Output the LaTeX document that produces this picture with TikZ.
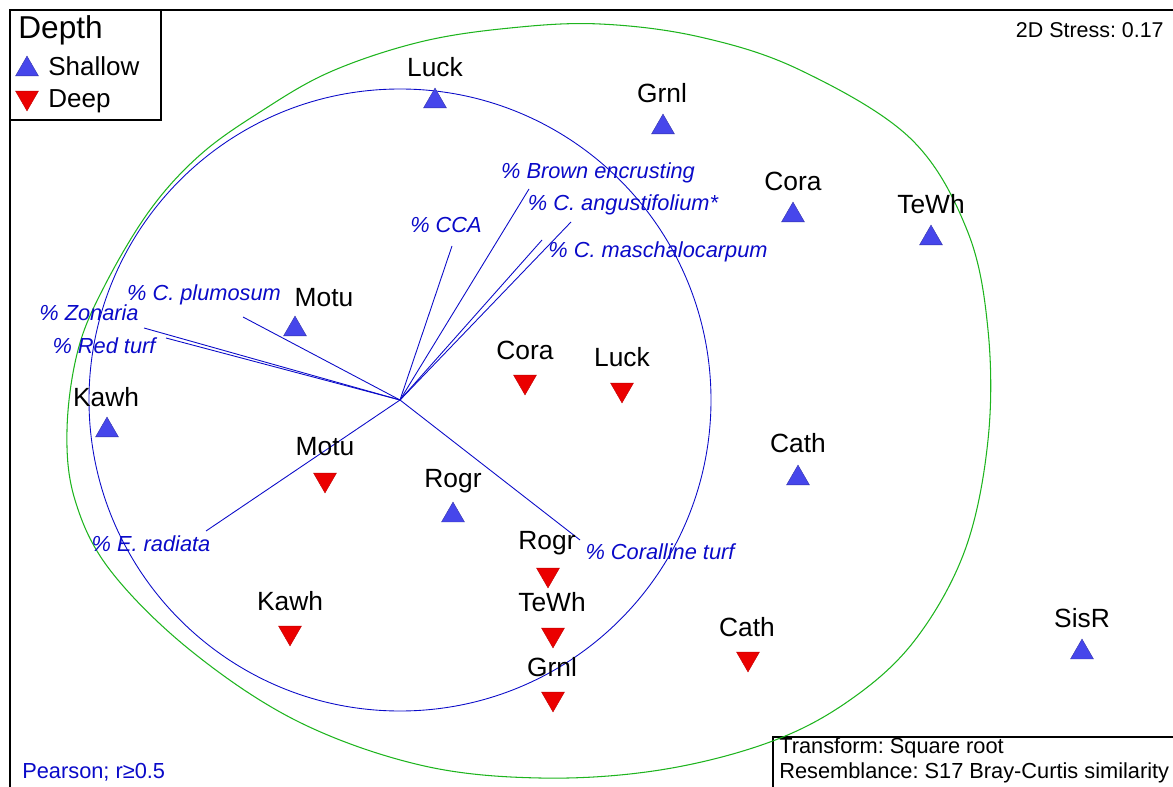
\documentclass[tikz,border=0pt]{standalone}
\usepackage{fontspec}
\setmainfont{Liberation Sans}
\usetikzlibrary{shapes.geometric}
\frenchspacing

\definecolor{vecblue}{RGB}{10,10,200}
\definecolor{shalfill}{RGB}{70,70,235}
\definecolor{deepfill}{RGB}{235,0,0}
\definecolor{clustgreen}{RGB}{30,180,30}

\tikzset{
  shallow/.style={regular polygon, regular polygon sides=3, minimum size=0.53cm,
    inner sep=0pt, outer sep=0pt, fill=shalfill, draw=shalfill!70!black,
    line width=0.2pt, yshift=-0.066cm},
  deep/.style={regular polygon, regular polygon sides=3, shape border rotate=180,
    minimum size=0.53cm, inner sep=0pt, outer sep=0pt, fill=deepfill,
    draw=deepfill!80!black, line width=0.2pt, yshift=0.066cm},
  site/.style={font=\fontsize{15}{18}\selectfont, inner sep=0pt},
  vec/.style={text=vecblue, font=\fontsize{12.4}{15}\selectfont\itshape, inner sep=0pt},
  vecline/.style={draw=vecblue, line width=0.5pt},
}

\begin{document}
\begin{tikzpicture}[x=0.02cm, y=-0.02cm]
  \useasboundingbox (0,0) rectangle (1173,787);
  % frame and boxes
  \draw[line width=0.8pt] (10,787) -- (10,10) -- (1173,10);
  \draw[line width=0.6pt] (10,120) -- (161,120) -- (161,10);
  \draw[line width=0.6pt] (773,787) -- (773,737) -- (1173,737);

  % legend
  \node[anchor=west, font=\fontsize{18}{21}\selectfont, inner sep=0pt] (legtitle) at (18,30) {Depth};
  \node[shallow] (legsh) at (27,66) {};
  \node[anchor=west, font=\fontsize{14.8}{17}\selectfont, inner sep=0pt] (legshtxt) at (48,66) {Shallow};
  \node[deep] (legdp) at (27,101) {};
  \node[anchor=west, font=\fontsize{14.8}{17}\selectfont, inner sep=0pt] (legdptxt) at (48,101) {Deep};

  \node[anchor=east, font=\fontsize{12.2}{14}\selectfont, inner sep=0pt] (stress) at (1164,30) {2D Stress: 0.17};
  \node[anchor=west, text=vecblue, font=\fontsize{12.4}{15}\selectfont, inner sep=0pt] (pearson) at (22,772) {Pearson; r≥0.5};
  \node[anchor=west, font=\fontsize{12.4}{15}\selectfont, inner sep=0pt] (transf) at (779,748) {Transform: Square root};
  \node[anchor=west, font=\fontsize{12.4}{15}\selectfont, inner sep=0pt] (resem) at (779,773) {Resemblance: S17 Bray-Curtis similarity};

  % cluster outline and vector circle
  \draw[clustgreen, line width=0.6pt] plot[smooth cycle, tension=0.6] coordinates {
    (600,24) (700,37) (800,70) (910,138) (967,230) (988,330) (988,440)
    (965,550) (915,640) (850,700) (770,742) (660,770) (540,778) (420,765)
    (297,721) (190,650) (110,570) (75,500) (67,430) (78,350) (105,285)
    (150,210) (200,155) (260,112) (330,72) (420,42) (510,28)};
  \draw[vecblue, line width=0.5pt] (400,400) circle (311);

  % vectors
  \coordinate (orig) at (400,400);
  \coordinate (vcca) at (452,246);
  \coordinate (vbrown) at (529,189);
  \coordinate (vangu) at (571,222);
  \coordinate (vmasch) at (542,240);
  \coordinate (vplum) at (243,317);
  \coordinate (vzon) at (144,328);
  \coordinate (vred) at (166,338);
  \coordinate (vrad) at (206,531);
  \coordinate (vcor) at (580,540);
  \foreach \v in {vcca,vbrown,vangu,vmasch,vplum,vzon,vred,vrad,vcor}
    \draw[vecline] (orig) -- (\v);

  \node[vec] (lcca) at (446,225) {\% CCA};
  \node[vec] (lbrown) at (598,173) {\% Brown encrusting};
  \node[vec] (langu) at (623,205) {\% C. angustifolium*};
  \node[vec] (lmasch) at (658,252) {\% C. maschalocarpum};
  \node[vec] (lplum) at (204,295) {\% C. plumosum};
  \node[vec] (lzon) at (89,313) {\% Zonaria};
  \node[vec] (lred) at (104,346) {\% Red turf};
  \node[vec] (lrad) at (151,544) {\% E. radiata};
  \node[vec] (lcor) at (660,552) {\% Coralline turf};

  % shallow sites
  \node[shallow] (sluck) at (435,98) {};
  \node[site] at (435,67) {Luck};
  \node[shallow] (sgrnl) at (663,124) {};
  \node[site] at (662,93) {Grnl};
  \node[shallow] (scora) at (793,212) {};
  \node[site] at (793,181) {Cora};
  \node[shallow] (stewh) at (931,235) {};
  \node[site] at (931,204) {TeWh};
  \node[shallow] (smotu) at (295,326) {};
  \node[site] at (324,298) {Motu};
  \node[shallow] (skawh) at (107,427) {};
  \node[site] at (106,397) {Kawh};
  \node[shallow] (srogr) at (453,512) {};
  \node[site] at (453,481) {Rogr};
  \node[shallow] (scath) at (798,475) {};
  \node[site] at (798,443) {Cath};
  \node[shallow] (ssisr) at (1082,649) {};
  \node[site] at (1082,618) {SisR};

  % deep sites
  \node[deep] (dcora) at (525,385) {};
  \node[site] at (525,350) {Cora};
  \node[deep] (dluck) at (622,393) {};
  \node[site] at (622,357) {Luck};
  \node[deep] (dmotu) at (325,483) {};
  \node[site] at (325,447) {Motu};
  \node[deep] (drogr) at (548,578) {};
  \node[site] at (547,543) {Rogr};
  \node[deep] (dtewh) at (553,638) {};
  \node[site] at (552,602) {TeWh};
  \node[deep] (dgrnl) at (553,702) {};
  \node[site] at (552,667) {Grnl};
  \node[deep] (dkawh) at (290,636) {};
  \node[site] at (290,601) {Kawh};
  \node[deep] (dcath) at (748,662) {};
  \node[site] at (747,627) {Cath};
\end{tikzpicture}
\end{document}
